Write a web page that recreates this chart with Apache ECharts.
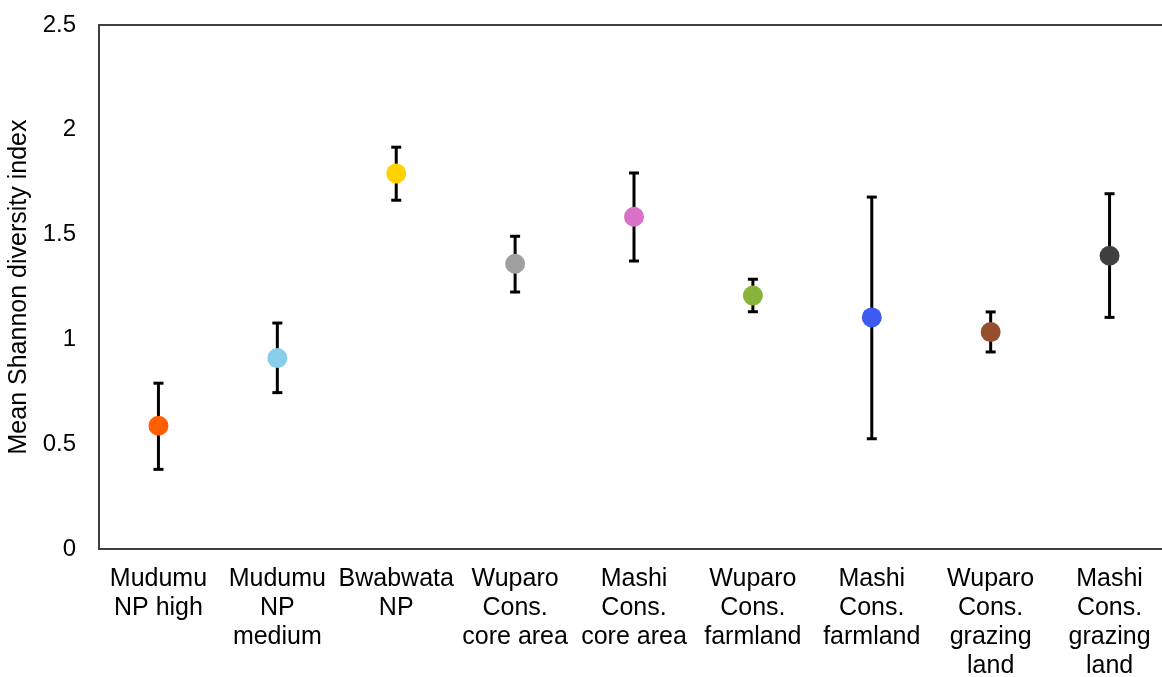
<!DOCTYPE html>
<html>
<head>
<meta charset="utf-8">
<script src="https://cdn.jsdelivr.net/npm/echarts@6/dist/echarts.min.js"></script>
<style>html,body{margin:0;padding:0;background:#fff}#c{width:1162px;height:677px}</style>
</head>
<body>
<div id="c"></div>
<script>
const categories = ['Mudumu\nNP high', 'Mudumu\nNP\nmedium', 'Bwabwata\nNP', 'Wuparo\nCons.\ncore area', 'Mashi\nCons.\ncore area', 'Wuparo\nCons.\nfarmland', 'Mashi\nCons.\nfarmland', 'Wuparo\nCons.\ngrazing\nland', 'Mashi\nCons.\ngrazing\nland'];
const means = [0.588, 0.911, 1.792, 1.361, 1.585, 1.209, 1.105, 1.035, 1.399];
const upper = [0.791, 1.078, 1.917, 1.492, 1.794, 1.287, 1.679, 1.131, 1.695];
const lower = [0.380, 0.746, 1.664, 1.226, 1.374, 1.132, 0.526, 0.940, 1.105];
const yTicks = [0, 0.5, 1, 1.5, 2, 2.5];
const pointColors = ['#FF5F00', '#87CEEB', '#FFD200', '#A0A0A0', '#DA70C8', '#8AB33A', '#3D5AF1', '#964F2C', '#404040'];

const chart = echarts.init(document.getElementById('c'), null, {renderer: 'canvas'});
const font = 'Liberation Sans, Arial, sans-serif';
chart.setOption({
  animation: false,
  grid: {left: 99, top: 25, width: 1070, height: 524, outerBoundsMode: 'none', containLabel: false,
    show: true, borderColor: '#404040', borderWidth: 2, backgroundColor: 'transparent'},
  xAxis: {
    type: 'category', data: categories,
    axisLine: {show: true, lineStyle: {color: '#404040', width: 2}},
    axisTick: {show: false},
    axisLabel: {color: '#000', fontFamily: font, fontSize: 25, lineHeight: 29, margin: 16, interval: 0}
  },
  yAxis: {
    type: 'value', min: 0, max: 2.5, interval: 0.5,
    name: 'Mean Shannon diversity index', nameLocation: 'middle', nameGap: 64,
    nameTextStyle: {color: '#000', fontFamily: font, fontSize: 25},
    axisLine: {show: true, lineStyle: {color: '#404040', width: 2}},
    axisTick: {show: false},
    splitLine: {show: false},
    axisLabel: {color: '#000', fontFamily: font, fontSize: 24, margin: 23,
      formatter: v => yTicks.includes(v) ? String(v) : ''}
  },
  series: [
    {
      type: 'custom',
      data: categories.map((c, i) => [i, lower[i], upper[i]]),
      renderItem: function (params, api) {
        const i = api.value(0);
        const lo = api.coord([i, api.value(1)]);
        const hi = api.coord([i, api.value(2)]);
        const hw = 5;
        const style = {stroke: '#000', lineWidth: 3};
        return {
          type: 'group',
          children: [
            {type: 'line', shape: {x1: hi[0], y1: hi[1], x2: lo[0], y2: lo[1]}, style: style},
            {type: 'line', shape: {x1: hi[0] - hw, y1: hi[1], x2: hi[0] + hw, y2: hi[1]}, style: style},
            {type: 'line', shape: {x1: lo[0] - hw, y1: lo[1], x2: lo[0] + hw, y2: lo[1]}, style: style}
          ]
        };
      },
      z: 2
    },
    {
      type: 'scatter',
      symbol: 'circle',
      symbolSize: 20,
      itemStyle: {opacity: 1},
      data: means.map((v, i) => ({value: v, itemStyle: {color: pointColors[i], opacity: 1}})),
      z: 3
    }
  ]
});
</script>
</body>
</html>
